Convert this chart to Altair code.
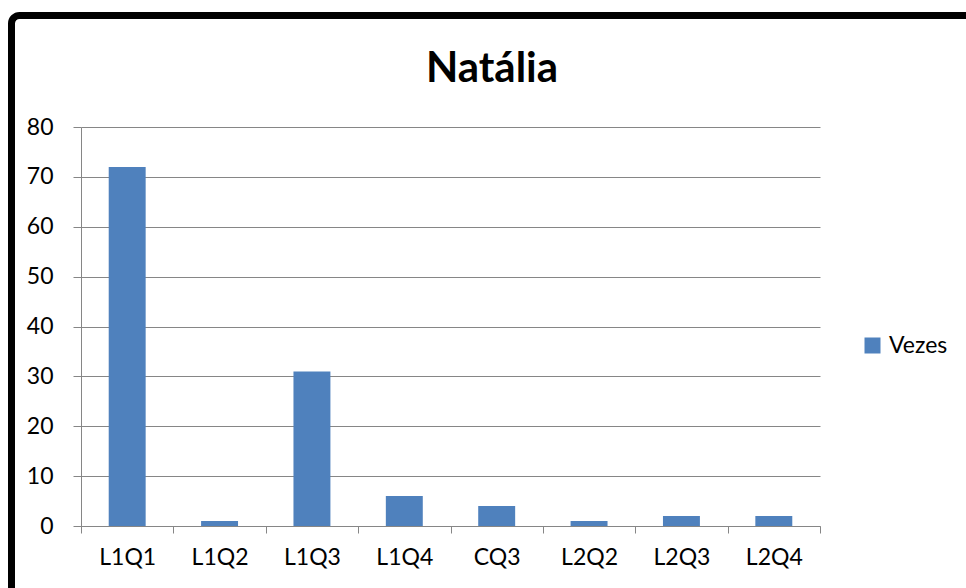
import altair as alt
import pandas as pd

# Counts per item
categories = ["L1Q1", "L1Q2", "L1Q3", "L1Q4", "CQ3", "L2Q2", "L2Q3", "L2Q4"]
vezes = [72, 1, 31, 6, 4, 1, 2, 2]
series_name = "Vezes"
y_ticks = [0, 10, 20, 30, 40, 50, 60, 70, 80]

df = pd.DataFrame({"item": categories, "vezes": vezes, "serie": [series_name] * len(categories)})

W, H = 739, 399
FONT = "Lato"
GRAY = "#868686"
BLUE = "#4F81BD"

bars = alt.Chart(df).mark_bar(width=alt.RelativeBandSize(0.4), color=BLUE).encode(
    x=alt.X(
        "item:N",
        sort=categories,
        scale=alt.Scale(paddingInner=0, paddingOuter=0),
        axis=alt.Axis(
            title=None,
            labelAngle=0,
            labelFont=FONT,
            labelFontSize=23,
            labelColor="#000000",
            labelPadding=13,
            tickBand="extent",
            tickSize=7,
            tickColor=GRAY,
            domainColor=GRAY,
            grid=False,
        ),
    ),
    y=alt.Y(
        "vezes:Q",
        scale=alt.Scale(domain=[0, 80], nice=False),
        axis=alt.Axis(
            title=None,
            values=y_ticks,
            labelFont=FONT,
            labelFontSize=23,
            labelColor="#000000",
            labelPadding=20,
            tickSize=8,
            tickColor=GRAY,
            domainColor=GRAY,
            gridColor=GRAY,
            gridWidth=1,
        ),
    ),
    color=alt.Color(
        "serie:N",
        scale=alt.Scale(range=[BLUE]),
        legend=alt.Legend(
            title=None,
            orient="none",
            legendX=780,
            legendY=207,
            symbolType="square",
            symbolSize=256,
            symbolStrokeWidth=0,
            labelFont=FONT,
            labelFontSize=23,
            labelColor="#000000",
            labelOffset=5,
            padding=0,
        ),
    ),
)

# Rounded black frame around the chart
frame = alt.Chart(pd.DataFrame({"k": [0]})).mark_rect(
    fill=None, stroke="#000000", strokeWidth=7, cornerRadius=8, clip=False
).encode(
    x=alt.value(-69.5), x2=alt.value(1100), y=alt.value(-111.5), y2=alt.value(700)
)

title = alt.Chart(pd.DataFrame({"t": ["Natália"]})).mark_text(
    font=FONT, fontSize=42, fontWeight="bold", color="#000000",
    align="center", baseline="alphabetic",
).encode(text="t:N", x=alt.value(411), y=alt.value(-45))

chart = alt.layer(frame, bars, title).properties(
    width=W,
    height=H,
    padding={"left": 81, "top": 127, "right": 966 - 81 - W, "bottom": 588 - 127 - H},
    autosize=alt.AutoSizeParams(type="none"),
    background="#ffffff",
).configure_view(stroke=None)

chart.save("out.html", embed_options={"renderer": "svg", "actions": False})
